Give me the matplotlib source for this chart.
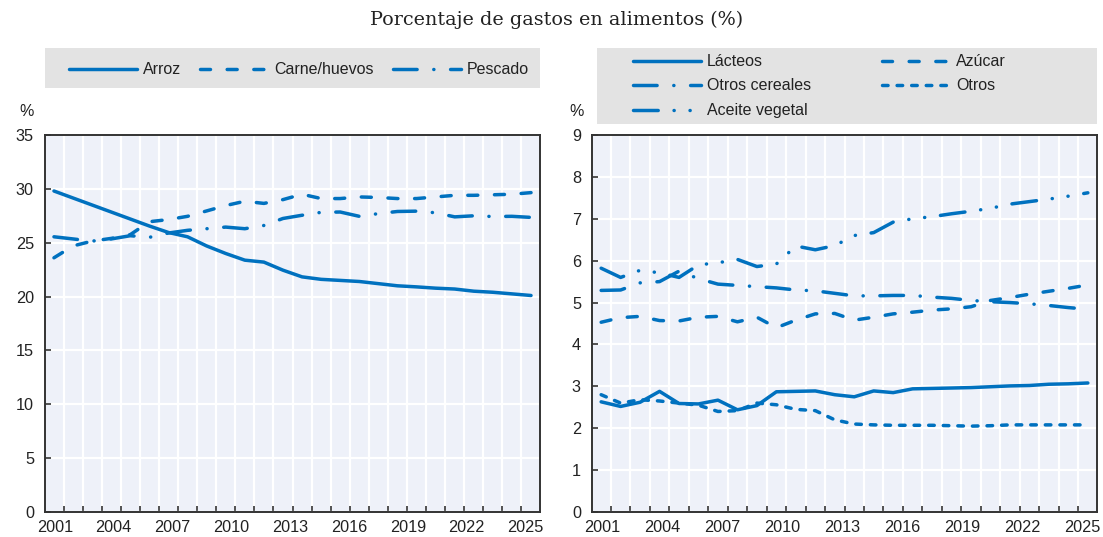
import numpy as np
import matplotlib
matplotlib.use("Agg")
import matplotlib.pyplot as plt
from matplotlib.patches import Rectangle

# ---------------- data ----------------
tick_labels = ["2001", "2004", "2007", "2010", "2013", "2016", "2019", "2022", "2025"]

arroz = [29.8, 29.15, 28.5, 27.85, 27.2, 26.55, 25.95, 25.55, 24.7, 24.0, 23.38, 23.2, 22.45,
         21.83, 21.6, 21.5, 21.4, 21.2, 21.0, 20.9, 20.78, 20.7, 20.5, 20.4, 20.25, 20.1]
carne = [23.6, 24.7, 25.15, 25.4, 25.75, 26.95, 27.15, 27.45, 27.95, 28.45, 28.85, 28.65, 29.0,
         29.5, 29.1, 29.1, 29.25, 29.2, 29.1, 29.1, 29.25, 29.4, 29.4, 29.45, 29.5, 29.65]
pescado = [25.55, 25.35, 25.15, 25.35, 25.65, 25.5, 25.9, 26.15, 26.3, 26.45, 26.3, 26.6, 27.25,
           27.55, 27.82, 27.85, 27.45, 27.7, 27.9, 27.93, 27.78, 27.4, 27.5, 27.43, 27.45, 27.35]

lacteos = [2.63, 2.52, 2.62, 2.88, 2.59, 2.58, 2.67, 2.44, 2.54, 2.87, 2.88, 2.89, 2.8,
           2.75, 2.89, 2.85, 2.94, 2.95, 2.96, 2.97, 2.99, 3.01, 3.02, 3.05, 3.06, 3.08]
azucar = [4.53, 4.64, 4.67, 4.57, 4.56, 4.65, 4.67, 4.54, 4.65, 4.4, 4.58, 4.73, 4.74,
          4.58, 4.65, 4.73, 4.77, 4.82, 4.85, 4.9, 5.05, 5.12, 5.2, 5.27, 5.34, 5.42]
otros_cereales = [5.29, 5.3, 5.47, 5.5, 5.75, 5.57, 5.44, 5.41, 5.38, 5.35, 5.3, 5.28, 5.22,
                  5.16, 5.16, 5.17, 5.17, 5.13, 5.1, 5.05, 5.02, 5.0, 4.97, 4.93, 4.88, 4.84]
otros = [2.8, 2.6, 2.68, 2.65, 2.6, 2.55, 2.4, 2.42, 2.6, 2.56, 2.45, 2.42, 2.2,
         2.1, 2.08, 2.07, 2.07, 2.07, 2.06, 2.05, 2.06, 2.08, 2.08, 2.08, 2.08, 2.08]
aceite = [5.82, 5.6, 5.77, 5.71, 5.6, 5.9, 5.95, 6.03, 5.86, 5.92, 6.35, 6.26, 6.36,
          6.6, 6.67, 6.92, 7.0, 7.05, 7.12, 7.18, 7.25, 7.35, 7.41, 7.47, 7.54, 7.62]

title = "Porcentaje de gastos en alimentos (%)"

# ---------------- style ----------------
plt.rcParams["font.family"] = ["Liberation Sans", "DejaVu Sans"]
plt.rcParams["lines.scale_dashes"] = False
BLUE = "#0071BF"
BG = "#EEF1F9"
TXT = "#222222"
SPINE = "#333333"
LW = 2.5

STY = {
    "solid": dict(linestyle="-"),
    "dash": dict(linestyle=(0, (7.2, 12.0))),
    "dashdot": dict(linestyle=(0, (17.0, 12.0, 0.1, 12.0))),
    "dashdotdot": dict(linestyle=(0, (17.8, 11.4, 0.1, 11.4, 0.1, 11.4))),
    "short": dict(linestyle=(0, (4.0, 6.5))),
}

W, H = 1103, 537
fig = plt.figure(figsize=(W / 100, H / 100), dpi=100)

# overlay for legend boxes / labels in pixel coordinates
ov = fig.add_axes([0, 0, 1, 1], zorder=-1)
ov.set_xlim(0, W)
ov.set_ylim(H, 0)
ov.axis("off")

ax1 = fig.add_axes([45 / W, 25 / H, 495 / W, 377 / H])
ax2 = fig.add_axes([592 / W, 25 / H, 505 / W, 377 / H])


def style_axes(ax, ymax, ystep):
    n = len(arroz)
    ax.set_facecolor(BG)
    ax.set_xlim(-0.47, n - 1 + 0.47)
    ax.set_ylim(0, ymax)
    ax.set_yticks(np.arange(0, ymax + 0.001, ystep))
    ax.set_xticks(np.linspace(0.05, n - 1.3, len(tick_labels)))
    ax.set_xticklabels(tick_labels)
    ax.set_xticks(np.arange(0.5, n - 1, 1.0), minor=True)
    ax.tick_params(axis="x", which="major", length=0, pad=6, labelsize=11.7, colors=TXT)
    ax.tick_params(axis="x", which="minor", direction="in", length=4, width=1.2, color=SPINE)
    ax.tick_params(axis="y", which="major", direction="in", length=4, width=1.2,
                   color=SPINE, pad=8, labelsize=11.7, labelcolor=TXT)
    ax.grid(True, which="minor", axis="x", color="white", linewidth=1.6)
    ax.grid(True, which="major", axis="y", color="white", linewidth=1.6)
    ax.set_axisbelow(True)
    for s in ax.spines.values():
        s.set_color(SPINE)
        s.set_linewidth(1.4)


style_axes(ax1, 35, 5)
style_axes(ax2, 9, 1)

left_series = [("Arroz", arroz, "solid"), ("Carne/huevos", carne, "dash"),
               ("Pescado", pescado, "dashdot")]
right_series = [("Lácteos", lacteos, "solid"), ("Azúcar", azucar, "dash"),
                ("Otros cereales", otros_cereales, "dashdot"), ("Otros", otros, "short"),
                ("Aceite vegetal", aceite, "dashdotdot")]

for ax, series in ((ax1, left_series), (ax2, right_series)):
    for name, vals, st in series:
        x = np.arange(len(vals))
        ax.plot(x, vals, color=BLUE, linewidth=LW, solid_capstyle="round",
                dash_capstyle="round", **STY[st])

# title and unit labels
fig.text(557 / W, 1 - 20 / H, title, ha="center", va="center", fontsize=13.8,
         family=["DejaVu Serif"], color=TXT)
ov.text(27, 111, "%", ha="center", va="center", fontsize=11.5, color=TXT)
ov.text(577, 111, "%", ha="center", va="center", fontsize=11.5, color=TXT)

# legends
ov.add_patch(Rectangle((45, 48), 495, 40, facecolor="#E3E3E3", edgecolor="none"))
ov.add_patch(Rectangle((597, 48), 500, 76, facecolor="#E3E3E3", edgecolor="none"))

left_leg_pos = [(69, 69), (200, 69), (393, 69)]
right_leg_pos = [(633, 61), (882, 61), (633, 85), (882, 85), (633, 110)]
for series, pos in ((left_series, left_leg_pos), (right_series, right_leg_pos)):
    for (name, vals, st), (x0, y) in zip(series, pos):
        ov.plot([x0, x0 + 68], [y, y], color=BLUE, linewidth=LW,
                solid_capstyle="round", dash_capstyle="round", **STY[st])
        ov.text(x0 + 74, y, name, ha="left", va="center", fontsize=11.5, color=TXT)

fig.savefig("out.png", dpi=100)
